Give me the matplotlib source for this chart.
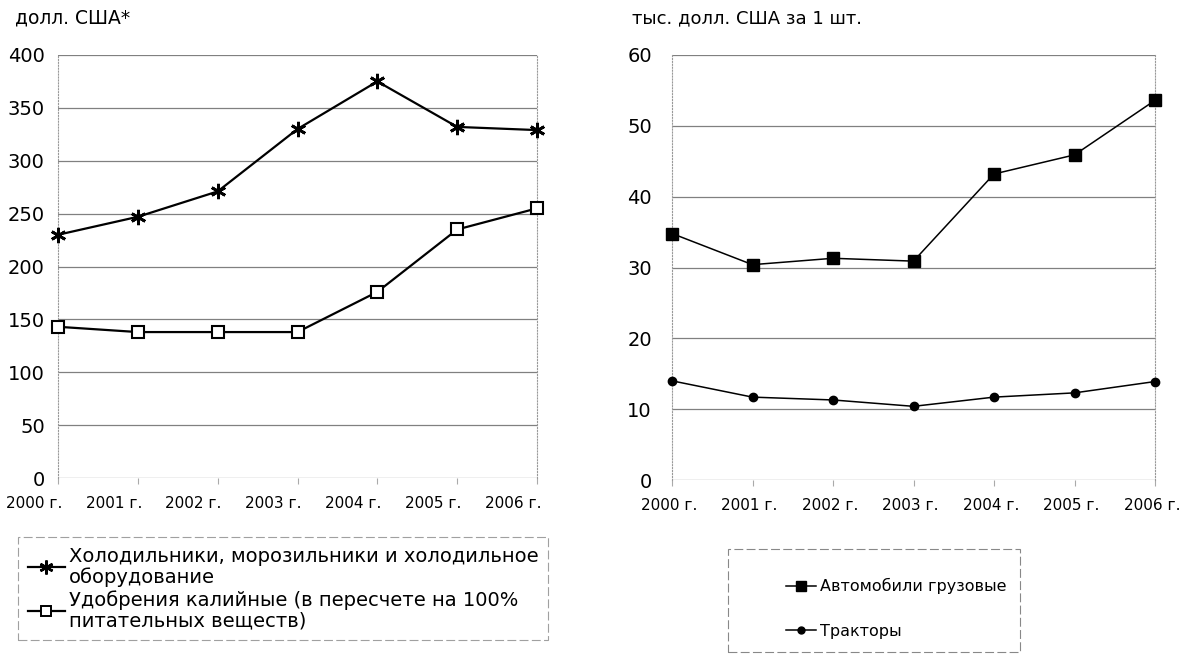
import matplotlib.pyplot as plt
from matplotlib.lines import Line2D
from matplotlib.patches import Rectangle
import matplotlib.transforms as mtransforms

plt.rcParams['font.family'] = ['DejaVu Sans']

years = ['2000 г.', '2001 г.', '2002 г.', '2003 г.', '2004 г.', '2005 г.', '2006 г.']

# left chart, долл. США
fridges = [230, 247, 271, 330, 375, 332, 329]
fertilizer = [143, 138, 138, 138, 176, 235, 255]

# right chart, тыс. долл. США за 1 шт.
trucks = [34.8, 30.4, 31.3, 30.9, 43.2, 45.9, 53.6]
tractors = [14.0, 11.7, 11.3, 10.4, 11.7, 12.3, 13.9]

W, H = 1182, 659
fig = plt.figure(figsize=(W / 100, H / 100), dpi=100)


def box(x0, x1, ytop, ybot):
    return [x0 / W, 1 - ybot / H, (x1 - x0) / W, (ybot - ytop) / H]


def style(ax, ymax, step, pad):
    ax.set_xlim(0, 6)
    ax.set_ylim(0, ymax)
    ax.set_yticks(range(0, ymax + 1, step))
    for y in range(0, ymax + 1, step):
        ax.axhline(y, color='#808080', lw=0.9, zorder=1)
    for s in ['top', 'bottom']:
        ax.spines[s].set_visible(False)
    for s in ['left', 'right']:
        ax.spines[s].set_linestyle(':')
        ax.spines[s].set_color('#999999')
        ax.spines[s].set_linewidth(0.8)
    ax.tick_params(axis='y', length=0, labelsize=14, pad=pad)
    ax.tick_params(axis='x', length=4, color='#aaaaaa', labelsize=11, pad=9)
    ax.set_xticks(range(len(years)))
    ax.set_xticklabels(years)


xs = list(range(len(years)))

ax1 = fig.add_axes(box(58, 537, 55, 478))
style(ax1, 400, 50, 9.5)
ax1.plot(xs, fridges, color='black', lw=1.6, marker=(6, 2, 0), ms=11, mew=2.0,
         clip_on=False, zorder=3)
ax1.plot(xs, fertilizer, color='black', lw=1.6, marker='s', ms=8, mew=1.5,
         mfc='white', clip_on=False, zorder=3)
off = mtransforms.ScaledTranslation(-24 / 100, 0, fig.dpi_scale_trans)
for lab in ax1.get_xticklabels():
    lab.set_transform(lab.get_transform() + off)

ax2 = fig.add_axes(box(672, 1155, 55, 480))
style(ax2, 60, 10, 14.5)
ax2.plot(xs, trucks, color='black', lw=1.1, marker='s', ms=8,
         clip_on=False, zorder=3)
ax2.plot(xs, tractors, color='black', lw=1.1, marker='o', ms=6,
         clip_on=False, zorder=3)
off2 = mtransforms.ScaledTranslation(-3 / 100, 0, fig.dpi_scale_trans)
for lab in ax2.get_xticklabels():
    lab.set_transform(lab.get_transform() + off2)

fig.text(15 / W, 1 - 18 / H, 'долл. США*', fontsize=13.5, va='center', ha='left')
fig.text(632 / W, 1 - 18 / H, 'тыс. долл. США за 1 шт.', fontsize=13,
         va='center', ha='left')

# legend, left chart
h1 = Line2D([], [], color='black', lw=1.6, marker=(6, 2, 0), ms=10, mew=1.8)
h2 = Line2D([], [], color='black', lw=1.6, marker='s', ms=7, mew=1.4, mfc='white')
leg1 = fig.legend([h1, h2],
                  ['Холодильники, морозильники и холодильное\nоборудование',
                   'Удобрения калийные (в пересчете на 100%\nпитательных веществ)'],
                  loc='upper left', bbox_to_anchor=(18 / W, 1 - 537 / H),
                  frameon=True, fancybox=False, edgecolor='#888888',
                  fontsize=14, handlelength=1.9, handletextpad=0.2,
                  labelspacing=0.2, borderaxespad=0, borderpad=0.5)
leg1.get_frame().set_linewidth(0.8)
leg1.get_frame().set_linestyle((0, (8, 3)))
for t in leg1.get_texts():
    t.set_linespacing(1.08)

# legend, right chart
fig.patches.append(Rectangle((728 / W, 1 - 652 / H), 292 / W, 103 / H,
                             transform=fig.transFigure, fill=False,
                             edgecolor='#888888', lw=0.8, ls=(0, (8, 3))))
h3 = Line2D([], [], color='black', lw=1.1, marker='s', ms=7)
h4 = Line2D([], [], color='black', lw=1.1, marker='o', ms=5)
fig.legend([h3, h4], ['Автомобили грузовые', 'Тракторы'],
           loc='upper left', bbox_to_anchor=(786 / W, 1 - 578 / H),
           frameon=False, fontsize=11.5, handlelength=1.9, handletextpad=0.2,
           labelspacing=1.85, borderaxespad=0, borderpad=0)

fig.savefig('out.png', dpi=100)
